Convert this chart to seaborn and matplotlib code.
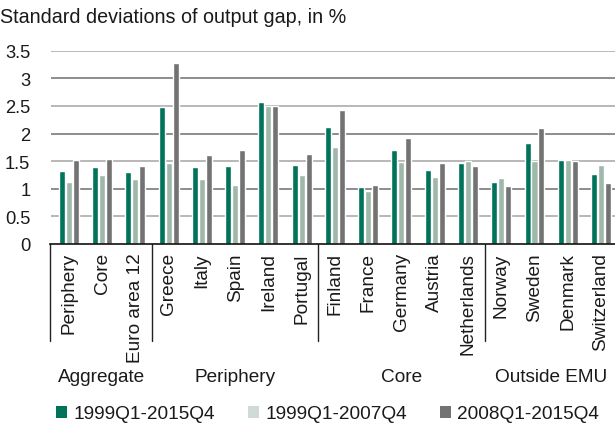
import numpy as np
import pandas as pd
import matplotlib
matplotlib.use("Agg")
import matplotlib.pyplot as plt
import matplotlib.transforms as mtransforms
from matplotlib.patches import Patch
import seaborn as sns

categories = ["Periphery", "Core", "Euro area 12", "Greece", "Italy", "Spain",
              "Ireland", "Portugal", "Finland", "France", "Germany", "Austria",
              "Netherlands", "Norway", "Sweden", "Denmark", "Switzerland"]
s_full = [1.32, 1.39, 1.30, 2.48, 1.39, 1.41, 2.57, 1.43, 2.12, 1.03, 1.70,
          1.34, 1.47, 1.12, 1.83, 1.52, 1.27]
s_pre = [1.12, 1.25, 1.18, 1.47, 1.18, 1.07, 2.50, 1.25, 1.76, 0.96, 1.48,
         1.21, 1.51, 1.19, 1.51, 1.52, 1.43]
s_post = [1.52, 1.54, 1.41, 3.28, 1.61, 1.70, 2.50, 1.63, 2.43, 1.07, 1.92,
          1.47, 1.41, 1.05, 2.10, 1.50, 1.10]
series_names = ["1999Q1-2015Q4", "1999Q1-2007Q4", "2008Q1-2015Q4"]
groups = ["Aggregate", "Periphery", "Core", "Outside EMU"]
group_bounds = [(-0.55, 2.5), (2.5, 7.5), (7.5, 12.5), (12.5, 16.5)]
yticks = [0, 0.5, 1, 1.5, 2, 2.5, 3, 3.5]
ytick_labels = ["0", "0.5", "1", "1.5", "2", "2.5", "3", "3.5"]
title = "Standard deviations of output gap, in %"

colors = ["#00735a", "#9fb8aa", "#737373"]
legend_colors = ["#00735a", "#cfdbd4", "#737373"]

df = pd.DataFrame({
    "category": categories * 3,
    "value": s_full + s_pre + s_post,
    "series": [series_names[0]] * len(categories) + [series_names[1]] * len(categories)
              + [series_names[2]] * len(categories),
})

sns.set_theme(style="white")
plt.rcParams["font.family"] = ["Liberation Sans", "DejaVu Sans"]
FS = 13.7
TXT = "#1a1a1a"

fig = plt.figure(figsize=(6.15, 4.27), dpi=100)
W, H = 615, 427
ax = fig.add_axes([50.5 / W, (H - 245) / H, 1 - 50.5 / W, (245 - 51.7) / H])

sns.barplot(data=df, x="category", y="value", hue="series", order=categories,
            hue_order=series_names, palette=colors, width=0.63, gap=0.14,
            saturation=1, ax=ax, legend=False, zorder=3)

ax.set_xlim(-0.55, 16.42)
ax.set_ylim(0, 3.5)
ax.set_yticks(yticks)
ax.set_yticklabels(ytick_labels, fontsize=13.2, color=TXT)
ax.tick_params(axis="y", length=0, pad=14.5)
ax.tick_params(axis="x", length=0, pad=6)
ax.set_xticks(range(len(categories)))
ax.set_xticklabels(categories, rotation=90, fontsize=FS, color=TXT, va="top")
ax.set_xlabel("")
ax.set_ylabel("")

for s in ["left", "right", "top"]:
    ax.spines[s].set_visible(False)
ax.spines["bottom"].set_color("#111111")
ax.spines["bottom"].set_linewidth(1.2)
ax.spines["bottom"].set_zorder(5)

for y in yticks[1:]:
    c = "#8c8c8c" if float(y).is_integer() else "#b8b8b8"
    ax.axhline(y, color=c, lw=1.4, zorder=1)

trans = mtransforms.blended_transform_factory(ax.transData, ax.transAxes)
ax_h = 245 - 51.7
sep_bottom = -(342 - 245) / ax_h
for x in [-0.55, 2.5, 7.5, 12.5]:
    ax.plot([x, x], [0, sep_bottom], transform=trans, color="#222222", lw=1.0,
            clip_on=False)

grp_y = -(377 - 245) / ax_h
for name, (a, b) in zip(groups, group_bounds):
    ax.text((a + b) / 2, grp_y, name, transform=trans, ha="center", va="center",
            fontsize=FS, color=TXT, clip_on=False)

fig.text(0.0, 1 - 23 / H, title, fontsize=14.2, color=TXT, va="baseline", ha="left")

handles = [Patch(facecolor=c, edgecolor="none") for c in legend_colors]
fig.legend(handles, series_names, loc="center left",
           bbox_to_anchor=(56 / W, 1 - 415 / H), ncol=3, frameon=False,
           fontsize=FS, handlelength=0.6, handleheight=0.6, handletextpad=0.3,
           columnspacing=1.75, borderpad=0, borderaxespad=0,
           labelcolor=TXT)

fig.savefig("out.png", dpi=100)
